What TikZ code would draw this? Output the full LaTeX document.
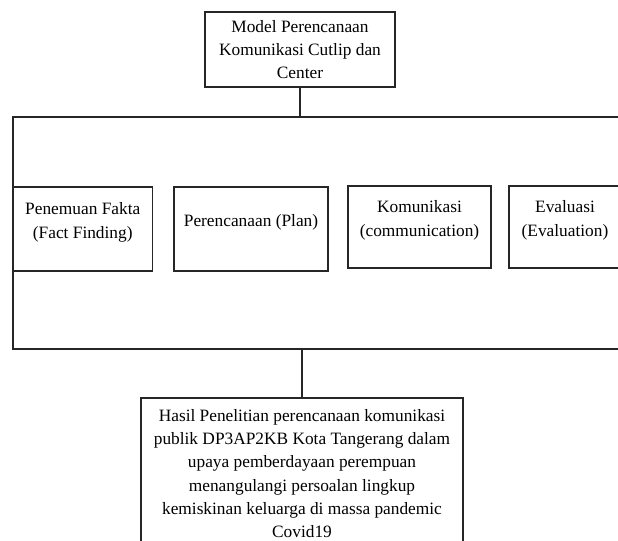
\documentclass[tikz,border=0pt]{standalone}
\usepackage{fontspec}
\setmainfont{Liberation Serif}
\usetikzlibrary{positioning}
\newcommand{\boxtext}[1]{\raisebox{0pt}[\height][\dimexpr\depth+10.5pt\relax]{\begin{tabular}{@{}c@{}}#1\end{tabular}}}

\begin{document}
\begin{tikzpicture}[x=0.75pt, y=-0.75pt,
    every node/.style={font=\fontsize{13}{18}\selectfont},
    frame/.style={draw=black!85, line width=0.8pt, inner sep=0pt},
    stage/.style={frame, minimum height=84*0.75pt},
    wire/.style={draw=black!85, line width=0.8pt}]
  \useasboundingbox (0,0) rectangle (618,540);
  \clip (0,0) rectangle (618,540);

  \node[frame, minimum width=190*0.75pt, minimum height=75*0.75pt, align=center,
        font=\fontsize{13}{17}\selectfont] (model) at (300,49.5)
        {Model Perencanaan\\Komunikasi Cutlip dan\\Center};

  \coordinate (tl) at (13,117);
  \coordinate (tr) at (625,117);
  \coordinate (bl) at (13,349);
  \coordinate (br) at (625,349);
  \draw[wire] (tr) -- (tl) -- (bl) -- (br);

  \node[stage, minimum width=139.5*0.75pt] (fakta) at (82.75,229)
        {\boxtext{Penemuan Fakta\\(Fact Finding)}};
  \node[stage, minimum width=154*0.75pt] (plan) at (251,229)
        {\boxtext{Perencanaan (Plan)}};
  \node[stage, minimum width=143*0.75pt, minimum height=82*0.75pt] (komunikasi) at (419.5,227)
        {\boxtext{Komunikasi\\(communication)}};
  \node[stage, minimum width=112*0.75pt, minimum height=82*0.75pt] (evaluasi) at (565,227)
        {\boxtext{Evaluasi\\(Evaluation)}};

  \node[frame, minimum width=322*0.75pt, minimum height=151*0.75pt, align=center,
        font=\fontsize{13}{17.5}\selectfont] (hasil) at (302,473.5)
        {Hasil Penelitian perencanaan komunikasi\\publik DP3AP2KB Kota Tangerang dalam\\upaya pemberdayaan perempuan\\menangulangi persoalan lingkup\\kemiskinan keluarga di massa pandemic\\Covid19};

  \draw[wire] (model.south) -- (model.south |- tl);
  \draw[wire] (hasil.north |- bl) -- (hasil.north);
\end{tikzpicture}
\end{document}
